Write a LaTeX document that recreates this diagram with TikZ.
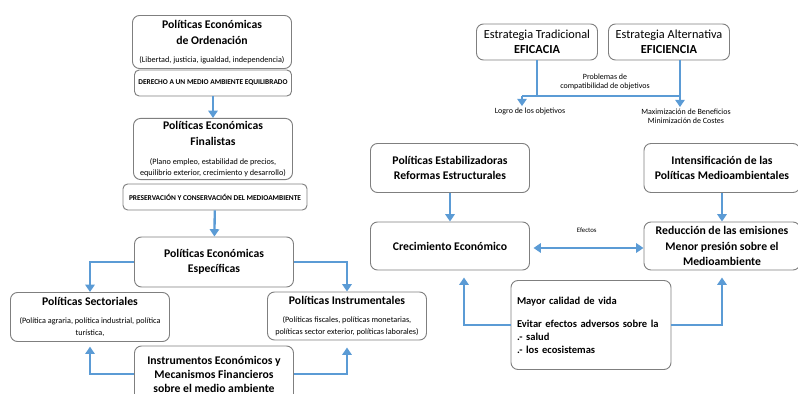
\documentclass[tikz,border=0pt]{standalone}
\usepackage{fontspec}
\setmainfont{Carlito}
\usetikzlibrary{positioning,arrows.meta}
\definecolor{flowblue}{HTML}{5B9BD5}
\definecolor{boxgray}{HTML}{7F7F7F}
\tikzset{
  flowline/.style={draw=flowblue, line width=2pt},
  flowarrow/.style={flowline, -{Triangle[length=2.2mm, width=2.8mm]}},
  dualarrow/.style={flowline, {Triangle[length=2.2mm, width=2.8mm]}-{Triangle[length=2.2mm, width=2.8mm]}},
  polbox/.style={draw=boxgray, thick, rounded corners=6pt, fill=white, align=center, minimum width=4.77cm, minimum height=1.5cm, inner sep=2pt, font=\bfseries\fontsize{10}{13}\selectfont},
  bandbox/.style={draw=boxgray, thick, rounded corners=4pt, fill=white, align=center, minimum height=0.78cm, inner sep=2pt, font=\bfseries\fontsize{6.3}{7.5}\selectfont},
  stratbox/.style={draw=boxgray, thick, rounded corners=6pt, fill=white, align=center, minimum width=3.63cm, minimum height=1.08cm, inner sep=2pt, font=\fontsize{10.5}{13}\selectfont},
  smalltxt/.style={align=center, inner sep=1pt, font=\fontsize{6.8}{8}\selectfont},
}
\newcommand{\detail}[1]{{\normalfont\fontsize{7}{8.5}\selectfont #1}}
\begin{document}
\begin{tikzpicture}[x=0.03cm, y=-0.03cm]
  \useasboundingbox (0,0) rectangle (798,394);
  % left column
  \node[polbox, minimum height=1.59cm, font=\bfseries\fontsize{10}{14}\selectfont] (orden) at (212,42) {Políticas Económicas\\de Ordenación\\[1pt]\detail{(Libertad, justicia, igualdad, independencia)}};
  \node[bandbox, minimum width=4.71cm] (derecho) at (213,83) {DERECHO A UN MEDIO AMBIENTE EQUILIBRADO};
  \node[polbox, minimum height=1.74cm, font=\bfseries\fontsize{10}{14}\selectfont] (finalistas) at (213,149) {Políticas Económicas\\Finalistas\\[2pt]\detail{(Plano empleo, estabilidad de precios,}\\[-4pt]\detail{equilibrio exterior, crecimiento y desarrollo)}};
  \node[bandbox, minimum width=5.52cm] (preserv) at (215,197) {PRESERVACIÓN Y CONSERVACIÓN DEL MEDIOAMBIENTE};
  \node[polbox] (especificas) at (214,262) {Políticas Económicas\\Específicas};
  \node[polbox, minimum height=1.47cm] (sectoriales) at (90,317) {Políticas Sectoriales\\[2pt]\detail{(Política agraria, política industrial, política}\\[-3pt]\detail{turística,}};
  \node[polbox, minimum height=1.44cm] (instrumentales) at (347,316) {Políticas Instrumentales\\[2pt]\detail{(Políticas fiscales, políticas monetarias,}\\[-3pt]\detail{políticas sector exterior, políticas laborales)}};
  \node[polbox, minimum height=1.68cm, font=\bfseries\fontsize{10}{12}\selectfont] (instrumentos) at (214,374) {Instrumentos Económicos y\\Mecanismos Financieros\\sobre el medio ambiente};
  \draw[flowarrow] (derecho) -- (finalistas);
  \draw[flowarrow] (preserv) -- (especificas);
  \draw[flowarrow] (especificas.west) -| (sectoriales.north);
  \draw[flowarrow] (especificas.east) -| (instrumentales.north);
  \draw[flowarrow, shorten >=4pt] (instrumentos.west) -| (sectoriales.south);
  \draw[flowarrow, shorten >=6pt] (instrumentos.east) -| (instrumentales.south);
  % strategies
  \node[stratbox] (trad) at (537,42) {Estrategia Tradicional\\\textbf{EFICACIA}};
  \node[stratbox] (alt) at (669,42) {Estrategia Alternativa\\\textbf{EFICIENCIA}};
  \node[smalltxt] (problemas) at (605,82) {Problemas de\\compatibilidad de objetivos};
  \node[smalltxt] (logro) at (530,111) {Logro de los objetivos};
  \node[smalltxt] (maxim) at (686,116) {Maximización de Beneficios\\Minimización de Costes};
  \coordinate (barl) at (522,96);
  \coordinate (barr) at (680,96);
  \draw[flowline] (trad.south) -- (trad.south |- barl);
  \draw[flowline] (alt.south -| barr) -- (barr);
  \draw[flowline] (barl) -- (barr);
  \draw[flowarrow] (barl) -- (barl |- logro.north);
  \draw[flowarrow] (barr) -- (barr |- maxim.north);
  % growth and emissions
  \node[polbox, minimum height=1.47cm] (estab) at (450,168) {Políticas Estabilizadoras\\Reformas Estructurales};
  \node[polbox, minimum height=1.47cm, minimum width=4.68cm] (intens) at (722,168) {Intensificación de las\\Políticas Medioambientales};
  \node[polbox, minimum height=1.44cm] (crec) at (450,246) {Crecimiento Económico};
  \node[polbox, minimum height=1.44cm, minimum width=4.68cm] (reduc) at (722,246) {Reducción de las emisiones\\Menor presión sobre el\\Medioambiente};
  \node[polbox, align=left, text width=4.44cm, minimum height=2.67cm, inner xsep=0.18cm, font=\bfseries\fontsize{9}{11}\selectfont] (mayor) at (591,325) {Mayor calidad de vida\\[9pt]Evitar efectos adversos sobre la\\.- salud\\.- los ecosistemas};
  \draw[flowarrow] (estab) -- (crec);
  \draw[flowarrow] (intens) -- (reduc);
  \draw[dualarrow, shorten <=3pt] (crec.east |- 0,248) -- (reduc.west |- 0,248) node[smalltxt, midway, above=11pt, font=\fontsize{5.8}{7}\selectfont] (efectos) {Efectos};
  \draw[flowarrow, shorten >=6pt] (mayor.west) -| ([xshift=0.42cm]crec.south);
  \draw[flowarrow, shorten >=6pt] (mayor.east) -| (reduc.south);
\end{tikzpicture}
\end{document}
